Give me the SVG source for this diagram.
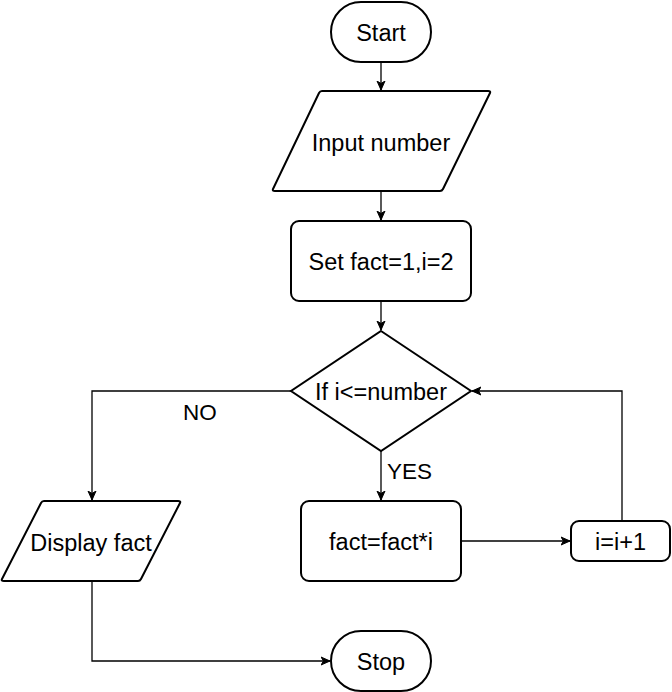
<svg xmlns="http://www.w3.org/2000/svg" width="672" height="692" viewBox="0 0 672 692">
<defs>
<style>
.s{fill:#fff;stroke:#000;stroke-width:2}
.c{fill:none;stroke:#000;stroke-width:1.3}
.t{font-family:"Liberation Sans",Arial,sans-serif;font-size:23.5px;fill:#000;text-anchor:middle}
.l{font-family:"Liberation Sans",Arial,sans-serif;font-size:22.5px;fill:#000}
</style>
<marker id="a" markerWidth="10" markerHeight="10" refX="9" refY="5" orient="auto" markerUnits="userSpaceOnUse">
<path d="M0,1 L9,5 L0,9 L2.5,5 Z" fill="#000" stroke="#000" stroke-width="1"/>
</marker>
</defs>
<rect width="672" height="692" fill="#fff"/>
<g id="connectors">
<path class="c" d="M381,62 L381,90" marker-end="url(#a)"/>
<path class="c" d="M381,191 L381,220" marker-end="url(#a)"/>
<path class="c" d="M381,301 L381,330" marker-end="url(#a)"/>
<path class="c" d="M381,451 L381,500" marker-end="url(#a)"/>
<path class="c" d="M291,391 L92,391 L92,500" marker-end="url(#a)"/>
<path class="c" d="M461,541 L570,541" marker-end="url(#a)"/>
<path class="c" d="M622,521 L622,391 L472,391" marker-end="url(#a)"/>
<path class="c" d="M92,581 L92,661 L330,661" marker-end="url(#a)"/>
<text class="l" x="183" y="420">NO</text>
<text class="l" x="387" y="479">YES</text>
</g>
<g id="start">
<rect class="s" x="331" y="2" width="100" height="60" rx="30" ry="30"/>
<text class="t" x="381" y="40.5">Start</text>
</g>
<g id="input">
<path class="s" d="M322,91 L488,91 Q491,91 490,93 L443,189 Q442,191 440,191 L275,191 Q272,191 273,189 L319,93 Q320,91 322,91 Z"/>
<text class="t" x="381" y="151">Input number</text>
</g>
<g id="set">
<rect class="s" x="291" y="221" width="180" height="80" rx="8" ry="8"/>
<text class="t" x="381" y="270">Set fact=1,i=2</text>
</g>
<g id="decision">
<path class="s" d="M381,331 L471,391 L381,451 L291,391 Z"/>
<text class="t" x="381" y="400">If i&lt;=number</text>
</g>
<g id="display">
<path class="s" d="M44,501 L178,501 Q181,501 180,503 L141,579 Q140,581 138,581 L4,581 Q1,581 2,579 L41,503 Q42,501 44,501 Z"/>
<text class="t" x="91" y="551">Display fact</text>
</g>
<g id="mult">
<rect class="s" x="301" y="501" width="160" height="80" rx="8" ry="8"/>
<text class="t" x="381" y="550">fact=fact*i</text>
</g>
<g id="inc">
<rect class="s" x="571" y="521" width="99" height="40" rx="8" ry="8"/>
<text class="t" x="620.5" y="550">i=i+1</text>
</g>
<g id="stop">
<rect class="s" x="331" y="631" width="100" height="60" rx="30" ry="30"/>
<text class="t" x="381" y="670">Stop</text>
</g>
</svg>
